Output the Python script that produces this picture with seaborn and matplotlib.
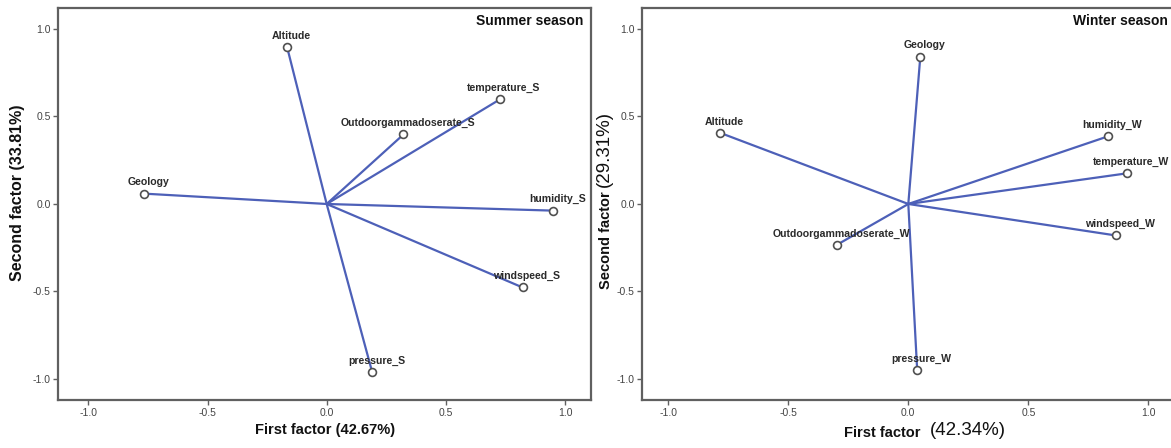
import matplotlib
matplotlib.use("Agg")
import matplotlib.pyplot as plt
import seaborn as sns
import pandas as pd

# ---- data (factor loadings) ----
summer_vars = ["Altitude", "temperature_S", "Outdoorgammadoserate_S", "Geology",
               "humidity_S", "windspeed_S", "pressure_S"]
summer_f1 = [-0.166, 0.726, 0.322, -0.765, 0.950, 0.822, 0.191]
summer_f2 = [0.896, 0.597, 0.397, 0.059, -0.038, -0.477, -0.961]

winter_vars = ["Geology", "Altitude", "humidity_W", "temperature_W",
               "windspeed_W", "Outdoorgammadoserate_W", "pressure_W"]
winter_f1 = [0.050, -0.783, 0.833, 0.910, 0.865, -0.297, 0.037]
winter_f2 = [0.842, 0.406, 0.387, 0.175, -0.180, -0.233, -0.951]

ticks = [-1.0, -0.5, 0.0, 0.5, 1.0]
tick_labels = ["-1.0", "-0.5", "0.0", "0.5", "1.0"]

sns.set_theme(style="white")
plt.rcParams["font.family"] = ["Liberation Sans", "DejaVu Sans"]

LINE = "#4d60b8"
SPINE = "#606060"
TXT = "#2a2a2a"

fig = plt.figure(figsize=(11.71, 4.48), dpi=100)
ax1 = fig.add_axes([58.3 / 1171, 1 - 400 / 448, (591 - 58.3) / 1171, (400 - 8.3) / 448])
ax2 = fig.add_axes([642.3 / 1171, 1 - 400 / 448, (1176 - 642.3) / 1171, (400 - 8.3) / 448])


def draw(ax, names, f1, f2, xlim, title):
    rows = []
    for n, a, b in zip(names, f1, f2):
        rows.append({"var": n, "x": 0.0, "y": 0.0})
        rows.append({"var": n, "x": a, "y": b})
    df = pd.DataFrame(rows)
    ends = pd.DataFrame({"var": names, "x": f1, "y": f2})
    sns.lineplot(data=df, x="x", y="y", units="var", estimator=None, sort=False,
                 color=LINE, lw=1.6, ax=ax, legend=False)
    sns.scatterplot(data=ends, x="x", y="y", marker="o", s=32, facecolor="white",
                    edgecolor="#505050", linewidth=1.2, ax=ax, zorder=3, legend=False)
    for n, a, b in zip(names, f1, f2):
        ax.annotate(n, (a, b), xytext=(3, 4.5), textcoords="offset points",
                    ha="center", va="bottom", fontsize=7.6, fontweight="bold",
                    color=TXT, zorder=4)
    ax.set_xlim(*xlim)
    ax.set_ylim(-1.12, 1.118)
    ax.set_xticks(ticks)
    ax.set_xticklabels(tick_labels)
    ax.set_yticks(ticks)
    ax.set_yticklabels(tick_labels)
    ax.tick_params(axis="both", direction="out", length=3.5, width=1, color=SPINE,
                   labelsize=7.5, labelcolor="#444444", pad=2, bottom=True, left=True)
    for s in ax.spines.values():
        s.set_color(SPINE)
        s.set_linewidth(1.6)
    ax.set_xlabel("")
    ax.set_ylabel("")
    ax.text(0.985, 0.985, title, transform=ax.transAxes, ha="right", va="top",
            fontsize=10, fontweight="bold", color="#111111")


draw(ax1, summer_vars, summer_f1, summer_f2, (-1.126, 1.109), "Summer season")
draw(ax2, winter_vars, winter_f1, winter_f2, (-1.108, 1.115), "Winter season")

# axis titles
ax1.set_xlabel("First factor (42.67%)", fontsize=10.5, fontweight="bold", color="#111111", labelpad=4)
ax1.set_ylabel("Second factor (33.81%)", fontsize=11.5, fontweight="bold", color="#111111")
ax1.yaxis.set_label_coords(-0.062, 0.53)

fig.text(925 / 1171, 1 - 433 / 448, "First factor ", ha="right", va="center",
         fontsize=10.5, fontweight="bold", color="#111111")
fig.text(930 / 1171, 1 - 430 / 448, "(42.34%)", ha="left", va="center",
         fontsize=13.5, fontweight="medium", color="#111111")
fig.text(606 / 1171, 1 - 240 / 448, "Second factor", rotation=90, ha="center", va="center",
         fontsize=10.5, fontweight="bold", color="#111111")
fig.text(604 / 1171, 1 - 149 / 448, "(29.31%)", rotation=90, ha="center", va="center",
         fontsize=13.5, fontweight="medium", color="#111111")

fig.savefig("out.png", dpi=100)
